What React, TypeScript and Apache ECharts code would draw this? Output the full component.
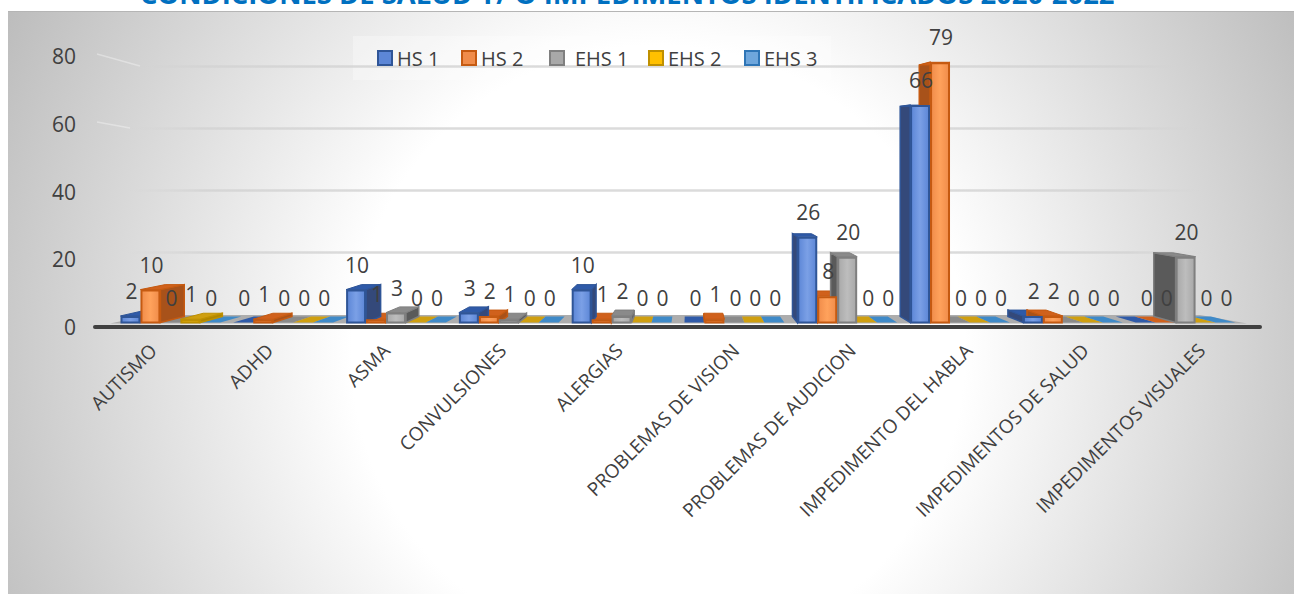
import React, { useEffect, useRef } from "react";
import * as echarts from "echarts";

const titleText = "CONDICIONES DE SALUD Y/ O IMPEDIMENTOS IDENTIFICADOS 2020-2022";
const categories = ["AUTISMO", "ADHD", "ASMA", "CONVULSIONES", "ALERGIAS", "PROBLEMAS DE VISION", "PROBLEMAS DE AUDICION", "IMPEDIMENTO DEL HABLA", "IMPEDIMENTOS DE SALUD", "IMPEDIMENTOS VISUALES"];
const seriesNames = ["HS 1", "HS 2", "EHS 1", "EHS 2", "EHS 3"];
const hs1 = [2, 0, 10, 3, 10, 0, 26, 66, 2, 0];
const hs2 = [10, 1, 1, 2, 1, 1, 8, 79, 2, 0];
const ehs1 = [0, 0, 3, 1, 2, 0, 20, 0, 0, 20];
const ehs2 = [1, 0, 0, 0, 0, 0, 0, 0, 0, 0];
const ehs3 = [0, 0, 0, 0, 0, 0, 0, 0, 0, 0];
const allValues = [hs1, hs2, ehs1, ehs2, ehs3];

const frontLight = ["#7ba0e6", "#ffa25c", "#bdbdbd", "#ffd040", "#80b4e6"];
const frontMain = ["#5c86d6", "#f08c4a", "#a8a8a8", "#ffc000", "#6ea6dc"];
const edge = ["#2f5597", "#c55a11", "#7f7f7f", "#bf9000", "#2e75b6"];
const side = ["#34497a", "#a8521a", "#5a5a5a", "#b08600", "#2a6aa6"];
const top = ["#2f5aa8", "#d0611c", "#8a8a8a", "#cf9f10", "#3f8ac8"];
const legendLeft = [372, 456, 544, 643, 739];

const KX = 0.045, KY = 0.034, VX = 690, VY = 144;
const P = (x: number, y: number) => [x + KX * (VX - x), y + KY * (VY - y)];

function makeRender(s: number) {
  return (_p: any, api: any) => {
    const cat = api.value(0);
    const val = api.value(1);
    const c0 = api.coord([cat, 0]);
    const c1 = api.coord([cat, val]);
    const w = api.size([1, 0])[0] * 0.177;
    const x0 = c0[0] + (s - 2.5) * w;
    const x1 = x0 + w;
    const yb = c0[1];
    const yt = c1[1];
    const children: any[] = [];
    const sx = x1 < VX ? x1 : x0 > VX ? x0 : null;
    if (val > 0 && sx !== null) {
      children.push({
        type: "polygon",
        z2: 10 + val,
        shape: { points: [[sx, yt], [sx, yb], P(sx, yb), P(sx, yt)] },
        style: { fill: side[s], stroke: edge[s], lineWidth: 1.5 },
      });
    }
    children.push({
      type: "polygon",
      z2: 10 + val,
      shape: { points: [[x0, yt], [x1, yt], P(x1, yt), P(x0, yt)] },
      style: { fill: top[s], stroke: val > 0 ? edge[s] : "none", lineWidth: 1 },
    });
    if (val > 0) {
      children.push({
        type: "rect",
        z2: 200,
        shape: { x: x0 + 1, y: yt + 1, width: w - 2, height: yb - yt - 1 },
        style: {
          fill: {
            type: "linear", x: 0, y: 0, x2: 1, y2: 0,
            colorStops: [
              { offset: 0, color: frontMain[s] },
              { offset: 0.5, color: frontLight[s] },
              { offset: 1, color: frontMain[s] },
            ],
          },
          stroke: edge[s],
          lineWidth: 2,
        },
      });
    }
    children.push({
      type: "text",
      z2: 300,
      x: (x0 + x1) / 2 + 1,
      y: yt - 25,
      style: {
        text: String(val), fill: "#404040", fontSize: 21, fontFamily: "Open Sans",
        align: "center", verticalAlign: "middle",
      },
    });
    return { type: "group", children };
  };
}

export default function App() {
  const ref = useRef<HTMLDivElement>(null);
  useEffect(() => {
    const chart = echarts.init(ref.current!, undefined, { renderer: "svg" });
    const font = "Open Sans";
    chart.setOption({
      animation: false,
      grid: [
        { left: 114, width: 1128, top: 59, height: 263.5 },
        { left: 95, width: 1165, top: 56, height: 271 },
        { left: 128, width: 1076, top: 66.7, height: 247.3 },
      ],
      xAxis: [
        { type: "category", gridIndex: 0, data: categories, show: false },
        {
          type: "category", gridIndex: 1, data: categories,
          axisTick: { show: false },
          axisLine: { lineStyle: { color: "#404040", width: 4 } },
          axisLabel: { interval: 0, rotate: 45, margin: 20, color: "#404040", fontSize: 19, fontFamily: font },
        },
        { type: "category", gridIndex: 2, data: categories, show: false },
      ],
      yAxis: [
        { type: "value", gridIndex: 0, min: 0, max: 80, interval: 20, show: false },
        {
          type: "value", gridIndex: 1, min: 0, max: 80, interval: 20,
          axisLine: { show: false }, axisTick: { show: false }, splitLine: { show: false },
          axisLabel: { margin: 19, color: "#404040", fontSize: 21, fontFamily: font },
        },
        {
          type: "value", gridIndex: 2, min: 0, max: 80, interval: 20,
          axisLine: { show: false }, axisTick: { show: false }, axisLabel: { show: false },
          splitLine: {
            show: true, showMinLine: false,
            lineStyle: {
              width: 2.5,
              color: {
                type: "linear", global: true, x: 128, y: 0, x2: 1204, y2: 0,
                colorStops: [
                  { offset: 0, color: "rgba(210,210,210,0)" },
                  { offset: 0.07, color: "rgba(210,210,210,0.8)" },
                  { offset: 0.93, color: "rgba(210,210,210,0.8)" },
                  { offset: 1, color: "rgba(210,210,210,0)" },
                ],
              },
            },
          },
        },
      ],
      legend: seriesNames.map((n, i) => ({
        data: [{ name: n, icon: "rect", itemStyle: { color: frontMain[i], borderColor: edge[i], borderWidth: 2 } }],
        left: legendLeft[i],
        top: 43,
        itemWidth: 14,
        itemHeight: 14,
        selectedMode: false,
        textStyle: { color: "#404040", fontSize: 20, fontFamily: font, padding: i === 2 ? [0, 0, 0, 6] : 0 },
      })),
      graphic: {
        elements: [
          {
            type: "text", x: 140, y: 7,
            style: { text: titleText, fill: "#0070c0", fontSize: 27.4, fontWeight: "bold", fontFamily: font, align: "left", verticalAlign: "bottom" },
          },
          { type: "rect", shape: { x: 353, y: 36, width: 478, height: 44 }, style: { fill: "rgba(255,255,255,0.3)" } },
          { type: "polygon", shape: { points: [[110, 323.5], [150, 315], [1200, 315], [1247, 323.5]] }, style: { fill: "#adadad" } },
          { type: "line", shape: { x1: 97, y1: 54, x2: 140, y2: 66 }, style: { stroke: "rgba(255,255,255,0.35)", lineWidth: 1.5 } },
          { type: "line", shape: { x1: 97, y1: 122, x2: 130, y2: 128 }, style: { stroke: "rgba(255,255,255,0.35)", lineWidth: 1.5 } },
        ],
      },
      series: seriesNames.map((n, s) => ({
        name: n,
        type: "custom",
        xAxisIndex: 0,
        yAxisIndex: 0,
        clip: false,
        itemStyle: { color: frontMain[s] },
        data: allValues[s].map((v, i) => [i, v]),
        encode: { x: 0, y: 1 },
        renderItem: makeRender(s),
      })),
    });
    return () => chart.dispose();
  }, []);
  return (
    <div style={{ position: "fixed", left: 0, top: 0, width: 1294, height: 594, background: "#fff", overflow: "hidden" }}>
      <div
        style={{
          position: "absolute", left: 8, top: 11, width: 1286, height: 583, boxSizing: "border-box",
          borderTop: "1px solid #b5b5b5",
          background: "radial-gradient(circle 730px at 650px 340px, #ffffff 0%, #ffffff 42%, #bdbdbd 100%)",
        }}
      />
      <div ref={ref} style={{ position: "absolute", left: 0, top: 0, width: 1294, height: 594 }} />
    </div>
  );
}
